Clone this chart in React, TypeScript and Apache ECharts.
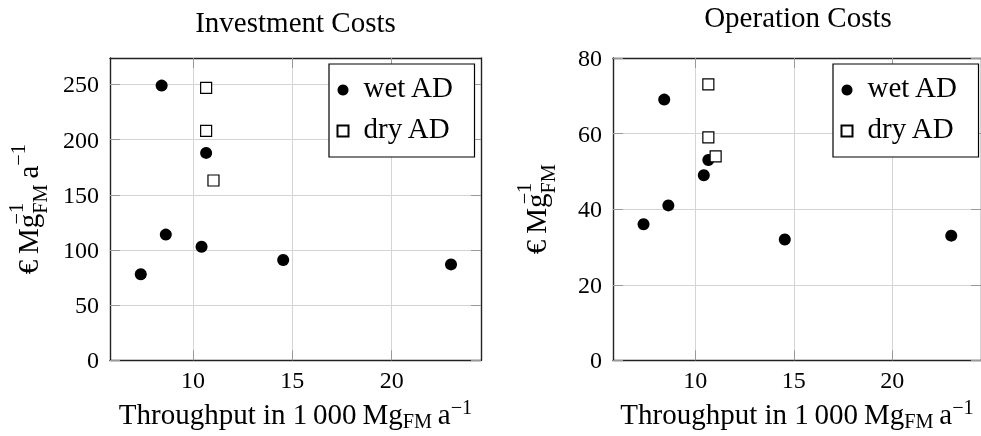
import React, { useEffect, useRef } from 'react';
import * as echarts from 'echarts';

// ---- data ----
const chartTitles = ['Investment Costs', 'Operation Costs'];
const seriesNames = ['wet AD', 'dry AD'];
const wetX = [7.37, 8.42, 8.63, 10.43, 10.66, 14.54, 22.99];
const wetInvest = [78, 249, 114, 103, 188, 91, 87];
const wetOper = [36, 69, 41, 49, 53, 32, 33];
const dryX = [10.66, 10.66, 11.03];
const dryInvest = [247, 208, 163];
const dryOper = [73, 59, 54];
const xTicks = [10, 15, 20];
const investTicks = [0, 50, 100, 150, 200, 250];
const operTicks = [0, 20, 40, 60, 80];
const xMin = 5.82;
const xMax = 24.5;
const investMax = 274;
const operMax = 80;

const FONT = "'Liberation Serif', 'Times New Roman', serif";

const rich: any = {
  m: { fontFamily: FONT, fontSize: 29, lineHeight: 40, color: '#000', verticalAlign: 'middle' },
  my: { fontFamily: FONT, fontSize: 29, lineHeight: 44, color: '#000', verticalAlign: 'middle' },
  sub: { fontFamily: FONT, fontSize: 20.3, color: '#000', verticalAlign: 'bottom', padding: [0, 0, 3.3, 0] },
  sub2: { fontFamily: FONT, fontSize: 20.3, color: '#000', verticalAlign: 'bottom', padding: [0, 0, 0, 0] },
  sup: { fontFamily: FONT, fontSize: 20.3, color: '#000', verticalAlign: 'top', padding: [3, 0, 0, 0] },
  supy: { fontFamily: FONT, fontSize: 20.3, color: '#000', verticalAlign: 'top', padding: [2, 0, 0, 0] },
  sup0: { fontFamily: FONT, fontSize: 20.3, color: '#000', verticalAlign: 'top', padding: [0, 0, 0, 0], width: 0, align: 'left' },
};

const xName = '{m|Throughput in 1\u2009000\u2009Mg}{sub|FM}{m|\u2009a}{sup|\u22121}';
const yNames = [
  '{my|\u20AC\u2009Mg}{sup0|\u22121}{sub2|FM}{my|\u2009a}{supy|\u22121}',
  '{my|\u20AC\u2009Mg}{sup0|\u22121}{sub2|FM}',
];

export default function App() {
  const ref = useRef<HTMLDivElement>(null);
  useEffect(() => {
    const chart = echarts.init(ref.current as HTMLDivElement, null, { renderer: 'svg' });
    const grids = [
      { left: 110, top: 58, width: 371, height: 304 },
      { left: 613, top: 58, width: 371, height: 304 },
    ];
    const yMaxes = [investMax, operMax];
    const yTickSets = [investTicks, operTicks];
    const yGaps = [60, 55];
    const lineStyle = { color: '#222', width: 1.4 };
    const tickStyle = { color: '#999', width: 1 };
    const gridLine = { color: '#d4d4d4', width: 1 };
    const labelStyle = { fontFamily: FONT, fontSize: 24, color: '#000' };
    const nameStyle = { fontFamily: FONT, fontSize: 29, color: '#000', rich };

    const xAxis: any[] = [];
    const yAxis: any[] = [];
    [0, 1].forEach((gi) => {
      xAxis.push({
        type: 'value', gridIndex: gi, position: 'bottom', min: xMin, max: xMax,
        axisLine: { show: true, onZero: false, lineStyle },
        axisTick: { show: true, inside: true, length: 10, customValues: xTicks, lineStyle: tickStyle },
        axisLabel: { show: true, customValues: xTicks, margin: 8, ...labelStyle },
        splitLine: { show: true, lineStyle: gridLine },
        name: xName, nameLocation: 'middle', nameGap: 26, nameTextStyle: nameStyle,
      });
      xAxis.push({
        type: 'value', gridIndex: gi, position: 'top', min: xMin, max: xMax,
        axisLine: { show: true, onZero: false, lineStyle },
        axisTick: { show: true, inside: true, length: 10, customValues: xTicks, lineStyle: tickStyle },
        axisLabel: { show: false },
        splitLine: { show: false },
      });
      yAxis.push({
        type: 'value', gridIndex: gi, position: 'left', min: 0, max: yMaxes[gi],
        axisLine: { show: true, onZero: false, lineStyle },
        axisTick: { show: true, inside: true, length: 10, customValues: yTickSets[gi], lineStyle: tickStyle },
        axisLabel: { show: true, customValues: yTickSets[gi], margin: 11, ...labelStyle },
        splitLine: { show: true, lineStyle: gridLine },
        name: yNames[gi], nameLocation: 'middle', nameGap: yGaps[gi], nameTextStyle: nameStyle,
      });
      yAxis.push({
        type: 'value', gridIndex: gi, position: 'right', min: 0, max: yMaxes[gi],
        axisLine: { show: true, onZero: false, lineStyle },
        axisTick: { show: true, inside: true, length: 10, customValues: yTickSets[gi], lineStyle: tickStyle },
        axisLabel: { show: false },
        splitLine: { show: false },
      });
    });

    const wetData = [wetInvest, wetOper];
    const dryData = [dryInvest, dryOper];
    const series: any[] = [];
    [0, 1].forEach((gi) => {
      series.push({
        type: 'scatter', name: seriesNames[0], xAxisIndex: gi * 2, yAxisIndex: gi * 2,
        symbol: 'circle', symbolSize: 12,
        itemStyle: { color: '#000', opacity: 1 },
        data: wetX.map((x, i) => [x, wetData[gi][i]]),
      });
      series.push({
        type: 'scatter', name: seriesNames[1], xAxisIndex: gi * 2, yAxisIndex: gi * 2,
        symbol: 'rect', symbolSize: 11,
        itemStyle: { color: '#fff', borderColor: '#000', borderWidth: 1.2, opacity: 1 },
        data: dryX.map((x, i) => [x, dryData[gi][i]]),
      });
    });

    const legendBase = {
      orient: 'vertical', top: 64, itemWidth: 11, itemHeight: 11, itemGap: 5,
      padding: [8, 20, 8, 7.5], borderColor: '#000', borderWidth: 1.2, backgroundColor: '#fff',
      data: seriesNames, selectedMode: false,
      formatter: (n: string) => '{a|' + n + '}',
      textStyle: {
        fontFamily: FONT, fontSize: 29, color: '#000',
        rich: { a: { fontFamily: FONT, fontSize: 29, color: '#000', lineHeight: 30, padding: [0, 0, 7, 10] } },
      },
    };

    chart.setOption({
      animation: false,
      grid: grids,
      xAxis, yAxis, series,
      legend: [
        { ...legendBase, left: 329 },
        { ...legendBase, left: 833 },
      ],
      graphic: [
        { type: 'text', x: 295.5, y: 21.6, style: { text: chartTitles[0], fontFamily: FONT, fontSize: 29, fill: '#000', textAlign: 'center', textVerticalAlign: 'middle' } },
        { type: 'text', x: 798, y: 16.6, style: { text: chartTitles[1], fontFamily: FONT, fontSize: 29, fill: '#000', textAlign: 'center', textVerticalAlign: 'middle' } },
      ],
    });
    return () => chart.dispose();
  }, []);
  return <div ref={ref} style={{ position: 'fixed', left: 0, top: 0, width: 981, height: 436 }} />;
}
